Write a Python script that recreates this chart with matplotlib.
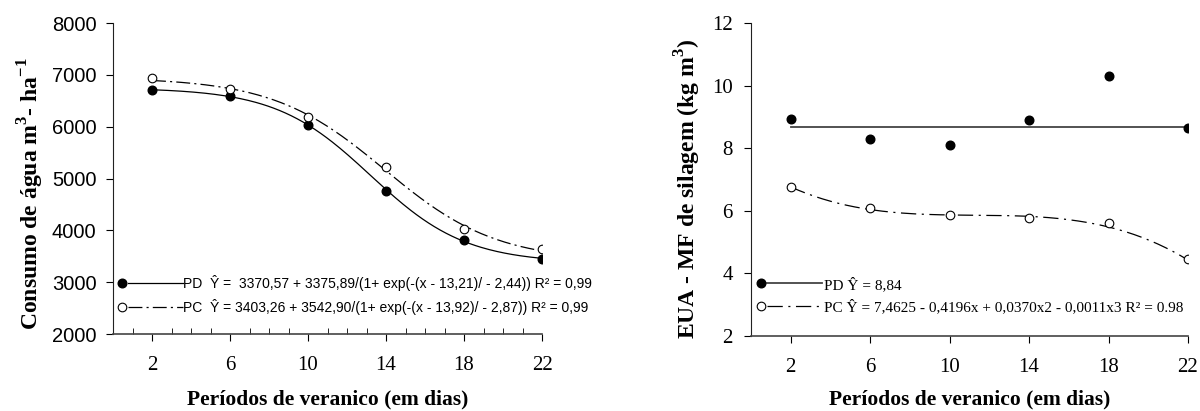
import numpy as np
import matplotlib
matplotlib.use("Agg")
from matplotlib import pyplot as plt
from matplotlib.lines import Line2D
from matplotlib.legend_handler import HandlerBase
from matplotlib.ticker import MultipleLocator

plt.rcParams['mathtext.fontset'] = 'custom'
plt.rcParams['mathtext.rm'] = 'Liberation Serif'
plt.rcParams['mathtext.bf'] = 'Liberation Serif:bold'
plt.rcParams['lines.scale_dashes'] = False

# periods of dry spell (days)
days = [2, 6, 10, 14, 18, 22]

# left panel: water consumption (m3 ha-1)
consumo_pd = [6700, 6590, 6040, 4760, 3820, 3440]
consumo_pc = [6930, 6720, 6190, 5220, 4020, 3640]
# fitted sigmoid parameters (a, b, x0, s) as printed on the chart
sig_pd = [3370.57, 3375.89, 13.21, -2.44]
sig_pc = [3403.26, 3542.90, 13.92, -2.87]

# right panel: water use efficiency (kg m-3)
eua_pd = [8.92, 8.28, 8.10, 8.89, 10.30, 8.63]
eua_pc = [6.76, 6.09, 5.87, 5.76, 5.60, 4.45]
eua_pd_line = 8.68
poly_pc = [7.4625, -0.4196, 0.0370, -0.0011]

label_pd_left = "PD  Ŷ =  3370,57 + 3375,89/(1+ exp(-(x - 13,21)/ - 2,44)) R² = 0,99"
label_pc_left = "PC  Ŷ = 3403,26 + 3542,90/(1+ exp(-(x - 13,92)/ - 2,87)) R² = 0,99"
label_pd_right = "PD Ŷ = 8,84"
label_pc_right = "PC Ŷ = 7,4625 - 0,4196x + 0,0370x2 - 0,0011x3 R² = 0.98"


class MarkerThenLine(HandlerBase):
    # marker at the left end of the handle, line running to the label
    def create_artists(self, legend, orig_handle, xdescent, ydescent,
                       width, height, fontsize, trans):
        y = height / 2 - ydescent
        x0 = -xdescent
        seg = Line2D([x0 + 4, x0 + width], [y, y])
        seg.update_from(orig_handle)
        seg.set_marker('None')
        dot = Line2D([x0], [y])
        dot.update_from(orig_handle)
        dot.set_linestyle('None')
        seg.set_transform(trans)
        dot.set_transform(trans)
        return [seg, dot]


def sigmoid(x, p):
    a, b, x0, s = p
    return a + b / (1 + np.exp(-(x - x0) / s))


xs = np.linspace(2, 22, 200)
dash_left = (0, (10, 3, 1.5, 3))
dash_right = (0, (11, 4, 1.5, 4))

fig = plt.figure(figsize=(12, 4.11), dpi=100)
ax1 = fig.add_axes([0.0942, 0.1873, 0.3575, 0.7567])
ax2 = fig.add_axes([0.6258, 0.1825, 0.3642, 0.7616])

# ---- left panel
ax1.plot(xs, sigmoid(xs, sig_pd), color='black', lw=0.9)
ax1.plot(xs, sigmoid(xs, sig_pc), color='black', lw=0.9, linestyle=dash_left)
ax1.plot(days, consumo_pd, 'o', color='black', ms=6.2, zorder=3)
ax1.plot(days, consumo_pc, 'o', mfc='white', mec='black', mew=0.8, ms=6.2, zorder=3)

h_pd = Line2D([], [], color='black', lw=0.9, marker='o', ms=6.2, mfc='black', mec='black')
h_pc = Line2D([], [], color='black', lw=0.9, linestyle=dash_left, marker='o', ms=6.2,
              mfc='white', mec='black', mew=0.8)
ax1.legend([h_pd, h_pc], [label_pd_left, label_pc_left],
           handler_map={Line2D: MarkerThenLine()},
           loc='center left', bbox_to_anchor=(0.021, 0.125), frameon=False,
           borderpad=0, borderaxespad=0, handlelength=4.4, handletextpad=0.0,
           labelspacing=0.55, prop={'family': 'Liberation Sans', 'size': 10})

ax1.set_xlim(0, 22)
ax1.set_ylim(2000, 8000)
ax1.set_xticks(days)
ax1.set_yticks(range(2000, 8001, 1000))
ax1.xaxis.set_minor_locator(MultipleLocator(1))
ax1.tick_params(axis='x', which='major', direction='out', length=5, pad=11)
ax1.tick_params(axis='x', which='minor', direction='in', length=4)
ax1.tick_params(axis='y', direction='out', length=5, pad=7)
for lab in ax1.get_xticklabels():
    lab.set_fontfamily('Liberation Serif')
    lab.set_fontsize(15)
for lab in ax1.get_yticklabels():
    lab.set_fontfamily('Liberation Sans')
    lab.set_fontsize(14.5)
ax1.set_xlabel("Períodos de veranico (em dias)", family='Liberation Serif',
               weight='bold', fontsize=15.5, labelpad=10)
ax1.set_ylabel(r"Consumo de água m$^{\mathbf{3}}$- ha$^{\mathbf{-1}}$",
               family='Liberation Serif', weight='bold', fontsize=17)
ax1.yaxis.set_label_coords(-0.156, 0.45)

# ---- right panel
ax2.plot([days[0], days[-1]], [eua_pd_line, eua_pd_line], color='#444444', lw=1.3)
ax2.plot(xs, np.polyval(poly_pc[::-1], xs), color='black', lw=0.9, linestyle=dash_right)
ax2.plot(days, eua_pd, 'o', color='black', ms=6.2, zorder=3)
ax2.plot(days, eua_pc, 'o', mfc='white', mec='black', mew=0.8, ms=6.2, zorder=3)

h2_pd = Line2D([], [], color='#444444', lw=1.3, marker='o', ms=6.2, mfc='black', mec='black')
h2_pc = Line2D([], [], color='black', lw=0.9, linestyle=dash_right, marker='o', ms=6.2,
               mfc='white', mec='black', mew=0.8)
ax2.legend([h2_pd, h2_pc], [label_pd_right, label_pc_right],
           handler_map={Line2D: MarkerThenLine()},
           loc='center left', bbox_to_anchor=(0.023, 0.129), frameon=False,
           borderpad=0, borderaxespad=0, handlelength=4.0, handletextpad=0.1,
           labelspacing=0.5, prop={'family': 'Liberation Serif', 'size': 11})

ax2.set_xlim(0, 22)
ax2.set_ylim(2, 12)
ax2.set_xticks(days)
ax2.set_yticks(range(2, 13, 2))
ax2.tick_params(axis='x', direction='out', length=5, pad=11)
ax2.tick_params(axis='y', direction='out', length=5, pad=8)
for lab in ax2.get_xticklabels() + ax2.get_yticklabels():
    lab.set_fontfamily('Liberation Serif')
    lab.set_fontsize(15)
ax2.set_xlabel("Períodos de veranico (em dias)", family='Liberation Serif',
               weight='bold', fontsize=15.5, labelpad=9)
ax2.set_ylabel(r"EUA - MF de silagem (kg m$^{\mathbf{3}}$)",
               family='Liberation Serif', weight='bold', fontsize=17)
ax2.yaxis.set_label_coords(-0.110, 0.47)

for ax in (ax1, ax2):
    ax.spines['top'].set_visible(False)
    ax.spines['right'].set_visible(False)
    ax.spines['left'].set_color('#222222')
    ax.spines['bottom'].set_color('#444444')
    ax.spines['bottom'].set_linewidth(1.2)

fig.savefig("out.png", dpi=100)
